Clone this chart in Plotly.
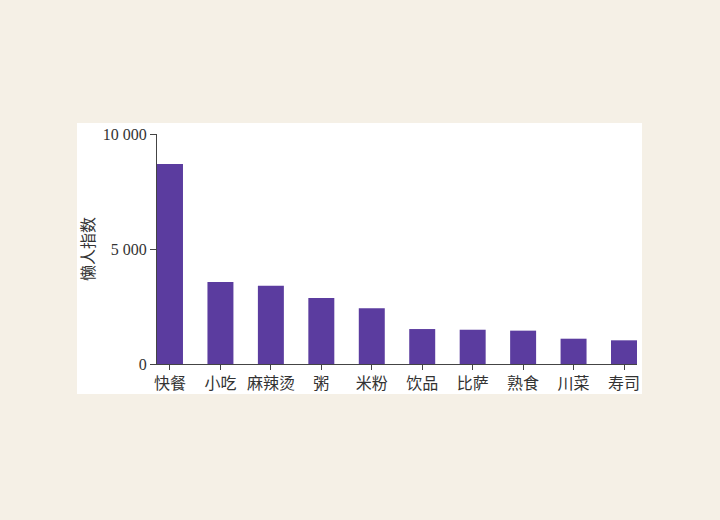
import plotly.graph_objects as go

categories = ["快餐", "小吃", "麻辣烫", "粥", "米粉", "饮品", "比萨", "熟食", "川菜", "寿司"]
values = [8700, 3570, 3400, 2870, 2420, 1520, 1490, 1450, 1100, 1030]
ytick_vals = [0, 5000, 10000]
ytick_text = ["0", "5 000", "10 000"]
y_title = "懒人指数"

W, H = 720, 520
L, R, T, B = 157, 83, 134, 156
pw, ph = W - L - R, H - T - B

def px_x(x):
    return (x - L) / pw

def px_y(y):
    return (H - B - y) / ph

fig = go.Figure(go.Bar(
    x=list(range(len(categories))),
    y=values,
    width=0.515,
    marker=dict(color="#5b3c9f", line=dict(width=0)),
))

fig.update_layout(
    width=W, height=H,
    margin=dict(l=L, r=R, t=T, b=B, pad=0),
    paper_bgcolor="#f5f0e6",
    plot_bgcolor="white",
    showlegend=False,
    shapes=[dict(type="rect", xref="paper", yref="paper",
                 x0=px_x(77), x1=px_x(642), y0=px_y(394), y1=px_y(123),
                 fillcolor="white", line=dict(width=0), layer="below")],
    xaxis=dict(
        range=[-0.2575, 9.2575],
        tickmode="array",
        tickvals=list(range(len(categories))),
        ticktext=categories,
        ticks="outside", ticklen=5, tickcolor="#444", tickwidth=1,
        showline=True, linecolor="#444", linewidth=1,
        showgrid=False, zeroline=False,
        tickfont=dict(family="Noto Sans CJK SC", size=16, color="#333"),
    ),
    yaxis=dict(
        range=[0, 10000],
        tickmode="array",
        tickvals=ytick_vals,
        ticktext=ytick_text,
        ticks="outside", ticklen=6, tickcolor="#444", tickwidth=1,
        showline=True, linecolor="#444", linewidth=1,
        showgrid=False, zeroline=False,
        tickfont=dict(family="Liberation Serif", size=16, color="#333"),
        title=dict(text=y_title, standoff=4,
                   font=dict(family="Noto Sans CJK SC", size=16, color="#333")),
    ),
)

fig.write_html("out.html")
